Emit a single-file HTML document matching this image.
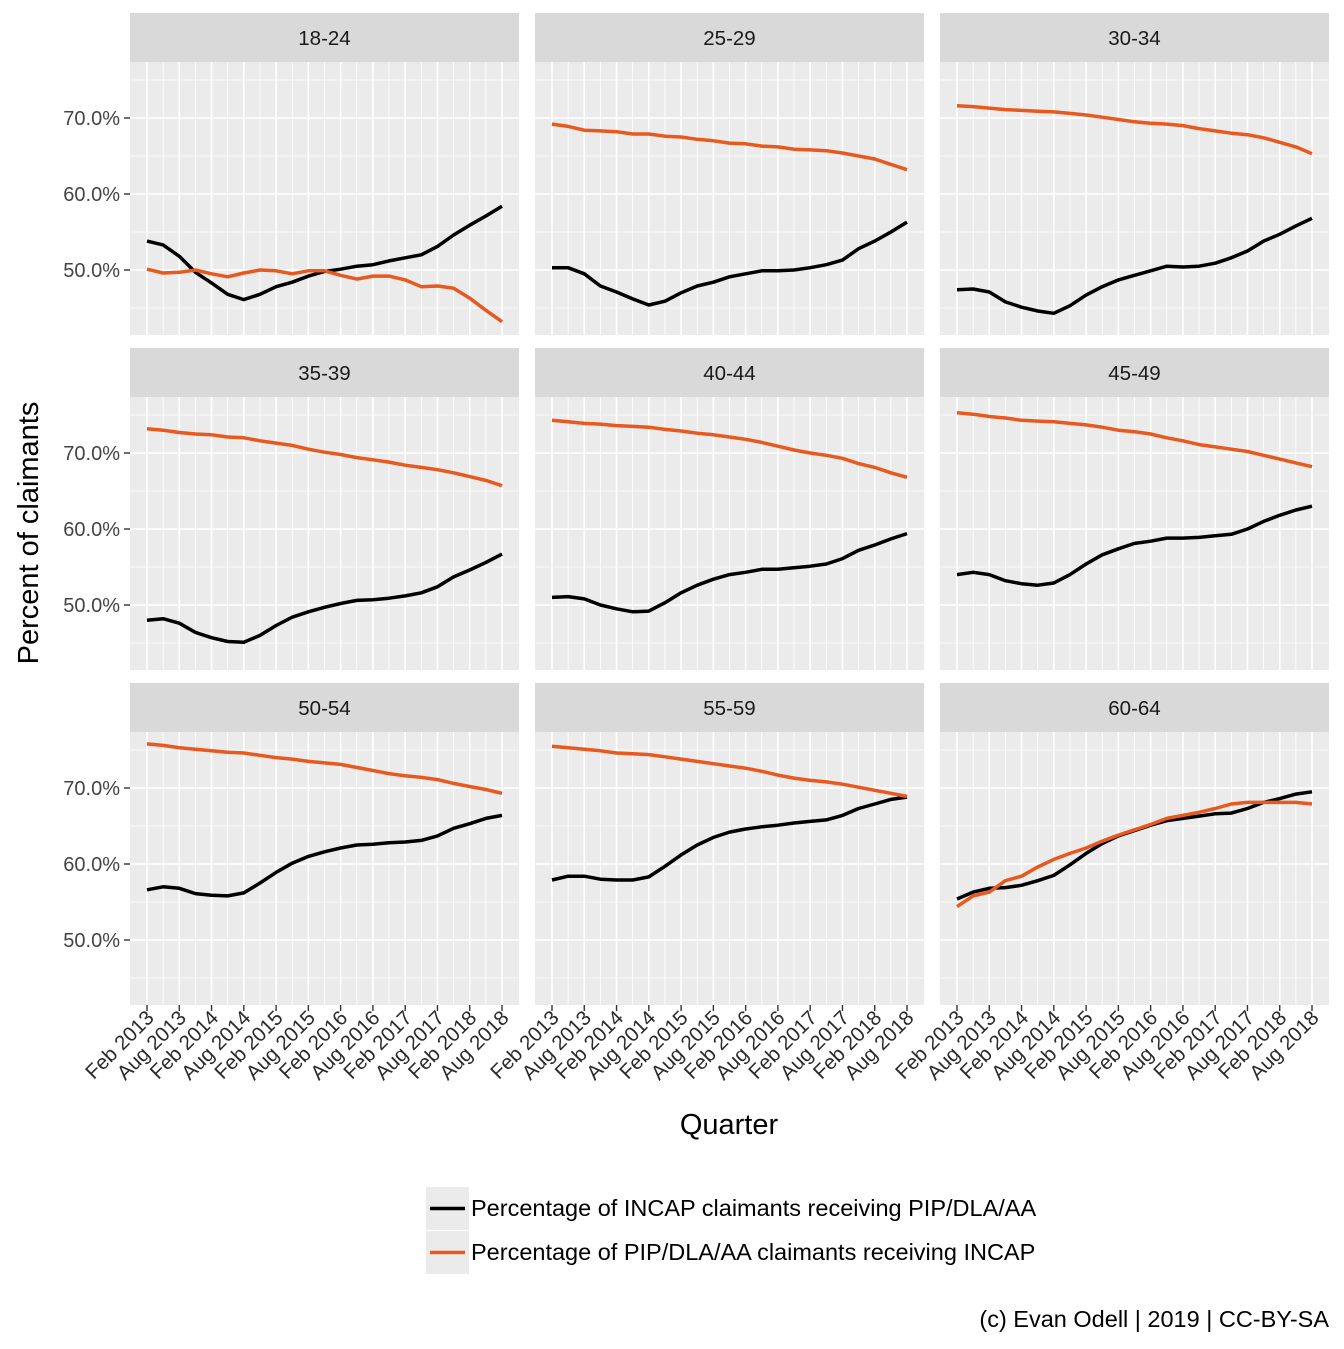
<!DOCTYPE html>
<html><head><meta charset="utf-8"><style>
body{margin:0;background:#fff}
svg text{font-family:"Liberation Sans",Arial,sans-serif}
</style></head><body>
<svg id="chart" width="1344" height="1344" xmlns="http://www.w3.org/2000/svg"></svg>
<script>
const panels = ["18-24","25-29","30-34","35-39","40-44","45-49","50-54","55-59","60-64"];
const xTickLabels = ["Feb 2013","Aug 2013","Feb 2014","Aug 2014","Feb 2015","Aug 2015","Feb 2016","Aug 2016","Feb 2017","Aug 2017","Feb 2018","Aug 2018"];
const yTicks = [50,60,70];
const incapSeries = [
[53.8,53.3,51.8,49.7,48.3,46.8,46.1,46.8,47.8,48.4,49.2,49.8,50.1,50.5,50.7,51.2,51.6,52.0,53.1,54.6,55.9,57.1,58.4],
[50.3,50.3,49.5,47.9,47.1,46.2,45.4,45.9,47.0,47.9,48.4,49.1,49.5,49.9,49.9,50.0,50.3,50.7,51.3,52.8,53.8,55.0,56.3],
[47.4,47.5,47.1,45.8,45.1,44.6,44.3,45.3,46.7,47.8,48.7,49.3,49.9,50.5,50.4,50.5,50.9,51.6,52.5,53.8,54.7,55.8,56.8],
[48.0,48.2,47.6,46.4,45.7,45.2,45.1,46.0,47.3,48.4,49.1,49.7,50.2,50.6,50.7,50.9,51.2,51.6,52.4,53.7,54.6,55.6,56.7],
[51.0,51.1,50.8,50.0,49.5,49.1,49.2,50.3,51.6,52.6,53.4,54.0,54.3,54.7,54.7,54.9,55.1,55.4,56.1,57.2,57.9,58.7,59.4],
[54.0,54.3,54.0,53.2,52.8,52.6,52.9,54.0,55.4,56.6,57.4,58.1,58.4,58.8,58.8,58.9,59.1,59.3,60.0,61.0,61.8,62.5,63.0],
[56.6,57.0,56.8,56.1,55.9,55.8,56.2,57.5,58.9,60.1,61.0,61.6,62.1,62.5,62.6,62.8,62.9,63.1,63.7,64.7,65.3,66.0,66.4],
[57.9,58.4,58.4,58.0,57.9,57.9,58.3,59.7,61.2,62.5,63.5,64.2,64.6,64.9,65.1,65.4,65.6,65.8,66.4,67.3,67.9,68.5,68.8],
[55.4,56.3,56.8,56.9,57.2,57.8,58.5,59.9,61.4,62.7,63.7,64.4,65.1,65.7,66.0,66.3,66.6,66.7,67.3,68.1,68.6,69.2,69.5]];
const pipSeries = [
[50.1,49.6,49.7,50.0,49.5,49.1,49.6,50.0,49.9,49.5,49.9,49.9,49.3,48.8,49.2,49.2,48.7,47.8,47.9,47.6,46.3,44.7,43.2],
[69.2,68.9,68.4,68.3,68.2,67.9,67.9,67.6,67.5,67.2,67.0,66.7,66.6,66.3,66.2,65.9,65.8,65.7,65.4,65.0,64.6,63.9,63.2],
[71.6,71.5,71.3,71.1,71.0,70.9,70.8,70.6,70.4,70.1,69.8,69.5,69.3,69.2,69.0,68.6,68.3,68.0,67.8,67.4,66.8,66.2,65.3],
[73.2,73.0,72.7,72.5,72.4,72.1,72.0,71.6,71.3,71.0,70.5,70.1,69.8,69.4,69.1,68.8,68.4,68.1,67.8,67.4,66.9,66.4,65.7],
[74.3,74.1,73.9,73.8,73.6,73.5,73.4,73.1,72.9,72.6,72.4,72.1,71.8,71.4,70.9,70.4,70.0,69.7,69.3,68.6,68.1,67.4,66.8],
[75.3,75.1,74.8,74.6,74.3,74.2,74.1,73.9,73.7,73.4,73.0,72.8,72.5,72.0,71.6,71.1,70.8,70.5,70.2,69.7,69.2,68.7,68.2],
[75.8,75.6,75.3,75.1,74.9,74.7,74.6,74.3,74.0,73.8,73.5,73.3,73.1,72.7,72.3,71.9,71.6,71.4,71.1,70.6,70.2,69.8,69.3],
[75.5,75.3,75.1,74.9,74.6,74.5,74.4,74.1,73.8,73.5,73.2,72.9,72.6,72.2,71.7,71.3,71.0,70.8,70.5,70.1,69.7,69.3,68.9],
[54.4,55.8,56.3,57.8,58.4,59.6,60.6,61.4,62.1,63.0,63.8,64.5,65.2,66.0,66.4,66.8,67.3,67.9,68.1,68.1,68.1,68.1,67.9]];

const NS="http://www.w3.org/2000/svg";
const svg=document.getElementById('chart');
function el(tag,attrs,parent){const e=document.createElementNS(NS,tag);for(const k in attrs)e.setAttribute(k,attrs[k]);(parent||svg).appendChild(e);return e;}
const colX=[130,535,940], PW=389, rowY=[62,397,732], PH=273;
const nQ=23;
function xScale(col,i){return colX[col]+17+i*(355/(nQ-1));}
function yScale(row,v){return rowY[row]+56+(70-v)*7.6;}

panels.forEach((name,p)=>{
  const col=p%3,row=Math.floor(p/3);
  const g=el('g',{});
  
  
  const strip=el('rect',{x:colX[col],y:rowY[row]-49,width:PW,height:49,fill:'#d9d9d9'},g);
  
  
  const st=el('text',{x:colX[col]+PW/2,y:rowY[row]-17,'text-anchor':'middle','font-size':20.5,fill:'#1a1a1a'},g);
  st.textContent=name;
  
  
  el('rect',{x:colX[col],y:rowY[row],width:PW,height:PH,fill:'#ebebeb'},g);
  [45,55,65,75].forEach(v=>el('line',{x1:colX[col],x2:colX[col]+PW,y1:yScale(row,v),y2:yScale(row,v),stroke:'#fff','stroke-width':0.8},g));
  for(let i=1;i<nQ;i+=2){el('line',{x1:xScale(col,i),x2:xScale(col,i),y1:rowY[row],y2:rowY[row]+PH,stroke:'#fff','stroke-width':0.8},g);}
  yTicks.forEach(v=>el('line',{x1:colX[col],x2:colX[col]+PW,y1:yScale(row,v),y2:yScale(row,v),stroke:'#fff','stroke-width':1.6},g));
  for(let i=0;i<nQ;i+=2){el('line',{x1:xScale(col,i),x2:xScale(col,i),y1:rowY[row],y2:rowY[row]+PH,stroke:'#fff','stroke-width':1.6},g);}
  if(col===0){yTicks.forEach(v=>{
    el('line',{x1:colX[0]-6,x2:colX[0],y1:yScale(row,v),y2:yScale(row,v),stroke:'#333','stroke-width':1.4});
    const t=el('text',{x:colX[0]-10,y:yScale(row,v)+7,'text-anchor':'end','font-size':20,fill:'#444'});
    t.textContent=v.toFixed(1)+'%';
    
    
  });}
  if(row===2){xTickLabels.forEach((lab,k)=>{
    const x=xScale(col,k*2);
    el('line',{x1:x,x2:x,y1:rowY[2]+PH,y2:rowY[2]+PH+6,stroke:'#333','stroke-width':1.4});
    const t=el('text',{x:x+8,y:rowY[2]+PH+14,'text-anchor':'end','font-size':20.5,fill:'#2a2a2a',transform:`rotate(-45 ${x+8} ${rowY[2]+PH+14})`});
    t.textContent=lab;
    
    
  });}
  [[incapSeries[p],'#000','incap'],[pipSeries[p],'#e9581d','pip']].forEach(([vals,c,n])=>{
    const d=vals.map((v,i)=>(i?'L':'M')+xScale(col,i).toFixed(1)+' '+yScale(row,v).toFixed(1)).join(' ');
    const l=el('path',{d:d,fill:'none',stroke:c,'stroke-width':3.5,'stroke-linejoin':'round'},g);
    
    
  });
});
let t=el('text',{x:729,y:1134,'text-anchor':'middle','font-size':29,fill:'#000'});t.textContent='Quarter';


t=el('text',{x:38,y:533,'text-anchor':'middle','font-size':29,fill:'#000',transform:'rotate(-90 38 533)'});t.textContent='Percent of claimants';


[['Percentage of INCAP claimants receiving PIP/DLA/AA','#000',1187],['Percentage of PIP/DLA/AA claimants receiving INCAP','#e9581d',1231]].forEach(([lab,c,y],k)=>{
  const g=el('g',{});
  
  
  el('rect',{x:426,y:y,width:43,height:43,fill:'#ebebeb'},g);
  el('line',{x1:430,x2:465,y1:y+21.5,y2:y+21.5,stroke:c,'stroke-width':3.5},g);
  const tt=el('text',{x:471,y:y+29,'font-size':23.5,fill:'#000'},g);tt.textContent=lab;
});
t=el('text',{x:1329,y:1327,'text-anchor':'end','font-size':23.5,fill:'#000'});t.textContent='(c) Evan Odell | 2019 | CC-BY-SA';


</script>
</body></html>
